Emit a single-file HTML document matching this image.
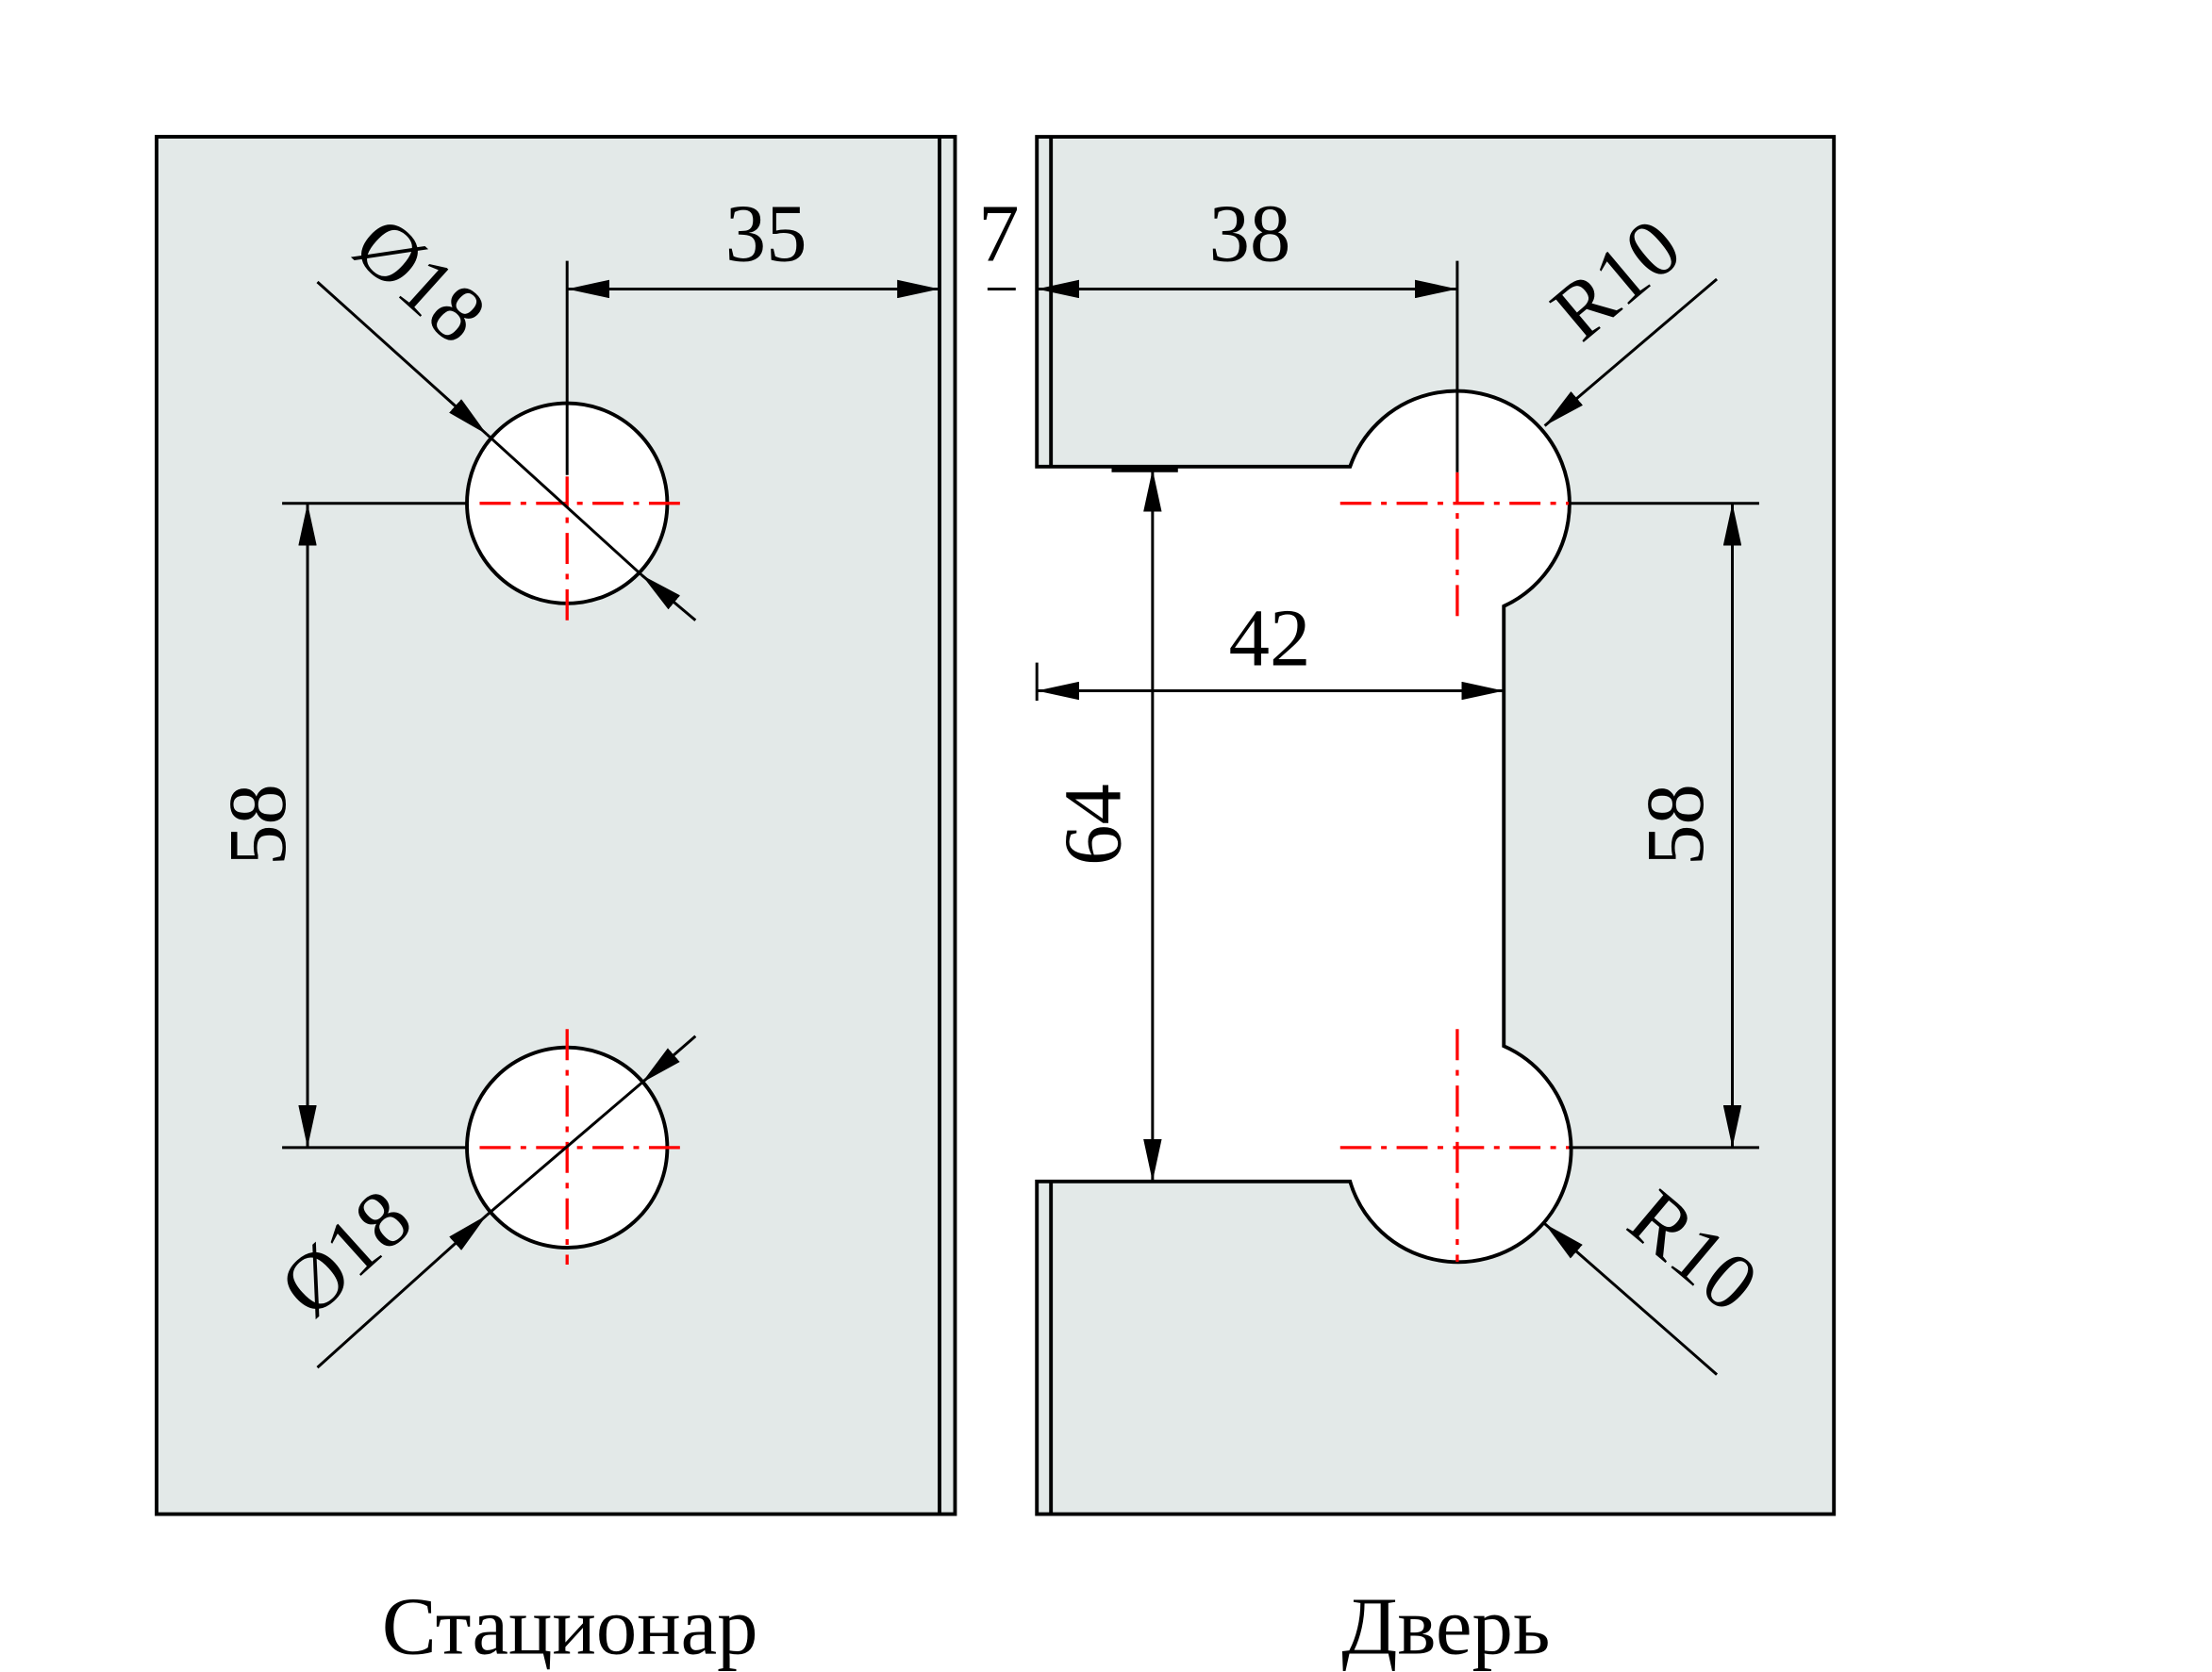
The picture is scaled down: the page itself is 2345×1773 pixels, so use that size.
<!DOCTYPE html>
<html><head><meta charset="utf-8"><style>
html,body{margin:0;padding:0;background:#fff;}
svg{display:block;}
text{font-family:"Liberation Serif",serif;fill:#000;}
</style></head><body>
<svg width="2345" height="1773" viewBox="0 0 1568 1186" preserveAspectRatio="none" xmlns="http://www.w3.org/2000/svg">
<defs>
<marker id="a" viewBox="0 0 10 10" refX="10" refY="5" markerWidth="30" markerHeight="13" markerUnits="userSpaceOnUse" orient="auto-start-reverse" preserveAspectRatio="none">
<path d="M0,0 L10,5 L0,10 Z" fill="#000"/></marker>
</defs>
<g stroke="#000" stroke-width="2.6">
<rect x="111" y="97" width="566" height="977" fill="#e3e9e8"/>
<line x1="666" y1="97" x2="666" y2="1074"/>
<path d="M735,97 H1300 V1074 H735 V838 H957 A80 80 0 1 0 1066 742 V430 A80 80 0 1 0 957 331 H735 Z" fill="#e3e9e8"/>
<line x1="745" y1="97" x2="745" y2="331"/>
<line x1="745" y1="838" x2="745" y2="1074"/>
<circle cx="402" cy="357" r="71" fill="#fff"/>
<circle cx="402" cy="814" r="71" fill="#fff"/>
</g>
<g stroke="#f00" stroke-width="2.2" stroke-dasharray="22,7,4,7" fill="none">
<line x1="340" y1="357" x2="487" y2="357"/><line x1="402" y1="338" x2="402" y2="440"/>
<line x1="340" y1="814" x2="487" y2="814"/><line x1="402" y1="730" x2="402" y2="897"/>
<line x1="950" y1="357" x2="1112" y2="357"/><line x1="1033" y1="335" x2="1033" y2="440"/>
<line x1="950" y1="814" x2="1112" y2="814"/><line x1="1033" y1="730" x2="1033" y2="895"/>
</g>
<g stroke="#000" stroke-width="2" fill="none">
<line x1="402" y1="185" x2="402" y2="337"/>
<line x1="402" y1="205" x2="666" y2="205" marker-start="url(#a)" marker-end="url(#a)"/>
<line x1="700" y1="205" x2="720" y2="205"/>
<line x1="735" y1="185" x2="735" y2="210"/>
<line x1="1033" y1="185" x2="1033" y2="335"/>
<line x1="735" y1="205" x2="1033" y2="205" marker-start="url(#a)" marker-end="url(#a)"/>
<line x1="225" y1="200" x2="345" y2="308" marker-end="url(#a)"/>
<line x1="345" y1="308" x2="455" y2="408"/>
<line x1="493" y1="440" x2="455" y2="408" marker-end="url(#a)"/>
<line x1="225" y1="970" x2="345" y2="862" marker-end="url(#a)"/>
<line x1="345" y1="862" x2="455" y2="768"/>
<line x1="493" y1="735" x2="455" y2="768" marker-end="url(#a)"/>
<line x1="200" y1="357" x2="330" y2="357"/><line x1="200" y1="814" x2="330" y2="814"/>
<line x1="218" y1="357" x2="218" y2="814" marker-start="url(#a)" marker-end="url(#a)"/>
<line x1="1217" y1="198" x2="1095" y2="302" marker-end="url(#a)"/>
<line x1="1217" y1="975" x2="1095" y2="868" marker-end="url(#a)"/>
<line x1="1112" y1="357" x2="1247" y2="357"/><line x1="1112" y1="814" x2="1247" y2="814"/>
<line x1="1228" y1="357" x2="1228" y2="814" marker-start="url(#a)" marker-end="url(#a)"/>
<line x1="817" y1="333" x2="817" y2="838" marker-start="url(#a)" marker-end="url(#a)"/>
<line x1="735" y1="470" x2="735" y2="497"/>
<line x1="735" y1="490" x2="1066" y2="490" marker-start="url(#a)" marker-end="url(#a)"/>
</g>
<line x1="788" y1="333" x2="835" y2="333" stroke="#000" stroke-width="4"/>
<g font-size="58">
<text x="543" y="185" text-anchor="middle">35</text>
<text x="708" y="185" text-anchor="middle">7</text>
<text x="886" y="185" text-anchor="middle">38</text>
<text x="900" y="472" text-anchor="middle">42</text>
<text transform="translate(202,585) rotate(-90)" text-anchor="middle">58</text>
<text transform="translate(1207,585) rotate(-90)" text-anchor="middle">58</text>
<text transform="translate(794,585) rotate(-90)" text-anchor="middle">64</text>
<text transform="translate(285,213) rotate(42)" text-anchor="middle">Ø18</text>
<text transform="translate(258,903) rotate(-42)" text-anchor="middle">Ø18</text>
<text transform="translate(1158,213) rotate(-40)" text-anchor="middle">R10</text>
<text transform="translate(1188,902) rotate(40)" text-anchor="middle">R10</text>
<text x="404" y="1173" text-anchor="middle">Стационар</text>
<text x="1025" y="1173" text-anchor="middle">Дверь</text>
</g>
</svg>
</body></html>
